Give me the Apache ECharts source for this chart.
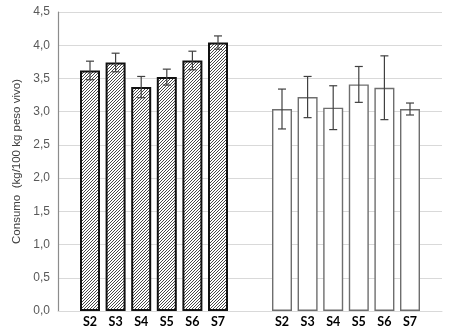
<!DOCTYPE html>
<html>
<head>
<meta charset="utf-8">
<script src="https://cdn.jsdelivr.net/npm/echarts@6/dist/echarts.min.js"></script>
<style>
html,body{margin:0;padding:0;background:#fff;}
#chart{width:454px;height:333px;}
</style>
</head>
<body>
<div id="chart"></div>
<script>
// ---- data ----
const labelsA = ['S2','S3','S4','S5','S6','S7'];
const labelsB = ['S2','S3','S4','S5','S6','S7'];
const meansA = [3.62, 3.74, 3.37, 3.52, 3.77, 4.04];
const errA   = [0.14, 0.14, 0.16, 0.12, 0.14, 0.10];
const meansB = [3.04, 3.22, 3.06, 3.41, 3.36, 3.04];
const errB   = [0.30, 0.31, 0.33, 0.27, 0.48, 0.09];
const yTicks = ['0,0','0,5','1,0','1,5','2,0','2,5','3,0','3,5','4,0','4,5'];
const yName = 'Consumo  (kg/100 kg peso vivo)';

// ---- layout: half-width category slots ----
const nSlots = 30;
const startA = 2, startB = 17, step = 2;
const cats = new Array(nSlots).fill('');
const dataA = new Array(nSlots).fill(null);
const dataB = new Array(nSlots).fill(null);
const errData = [];
labelsA.forEach((l,i)=>{ const k=startA+i*step; cats[k]=l; dataA[k]=meansA[i]; errData.push([k, meansA[i]-errA[i], meansA[i]+errA[i]]); });
labelsB.forEach((l,i)=>{ const k=startB+i*step; cats[k]=l; dataB[k]=meansB[i]; errData.push([k, meansB[i]-errB[i], meansB[i]+errB[i]]); });

// hatch pattern
const P = 3;
const pc = document.createElement('canvas');
pc.width = P; pc.height = P;
const g = pc.getContext('2d');
g.fillStyle = '#ffffff'; g.fillRect(0,0,P,P);
g.strokeStyle = '#333333'; g.lineWidth = 0.9;
g.beginPath();
g.moveTo(-1,P+1); g.lineTo(P+1,-1);
g.moveTo(-1,1); g.lineTo(1,-1);
g.moveTo(P-1,P+1); g.lineTo(P+1,P-1);
g.stroke();

const chart = echarts.init(document.getElementById('chart'), null, {renderer:'canvas'});
chart.setOption({
  animation:false,
  backgroundColor:'#ffffff',
  grid:{left:58, right:12, top:12, bottom:22},
  xAxis:{
    type:'category', data:cats,
    axisLine:{show:true, lineStyle:{color:'#d9d9d9', width:1}},
    axisTick:{show:false},
    axisLabel:{interval:0, color:'#000', fontFamily:'Lato', fontWeight:'bold', fontSize:12.5, margin:4}
  },
  yAxis:{
    type:'value', min:0, max:4.5, interval:0.5,
    name:yName, nameLocation:'middle', nameGap:35,
    nameTextStyle:{color:'#404040', fontFamily:'Liberation Sans', fontSize:11.5},
    axisLine:{show:true, lineStyle:{color:'#8c8c8c', width:1.2}},
    axisTick:{show:false},
    splitLine:{lineStyle:{color:'#d9d9d9', width:1}},
    axisLabel:{color:'#595959', fontFamily:'Liberation Sans', fontSize:12, margin:8,
      formatter:(v)=>yTicks[Math.round(v/0.5)]}
  },
  series:[
    {type:'bar', data:dataA, barWidth:20, barGap:'-100%',
     itemStyle:{color:{image:pc, repeat:'repeat'}, borderColor:'#111', borderWidth:2}},
    {type:'bar', data:dataB, barWidth:20, barGap:'-100%',
     itemStyle:{color:'#ffffff', borderColor:'#6e6e6e', borderWidth:1.4}},
    {type:'custom', data:errData, z:10,
     renderItem:function(params, api){
       const x = api.value(0);
       const lo = api.coord([x, api.value(1)]);
       const hi = api.coord([x, api.value(2)]);
       const cw = 4;
       const st = {stroke:'#404040', lineWidth:1.2};
       return {type:'group', children:[
         {type:'line', shape:{x1:lo[0], y1:lo[1], x2:hi[0], y2:hi[1]}, style:st},
         {type:'line', shape:{x1:lo[0]-cw, y1:lo[1], x2:lo[0]+cw, y2:lo[1]}, style:st},
         {type:'line', shape:{x1:hi[0]-cw, y1:hi[1], x2:hi[0]+cw, y2:hi[1]}, style:st}
       ]};
     }}
  ]
});
</script>
</body>
</html>
